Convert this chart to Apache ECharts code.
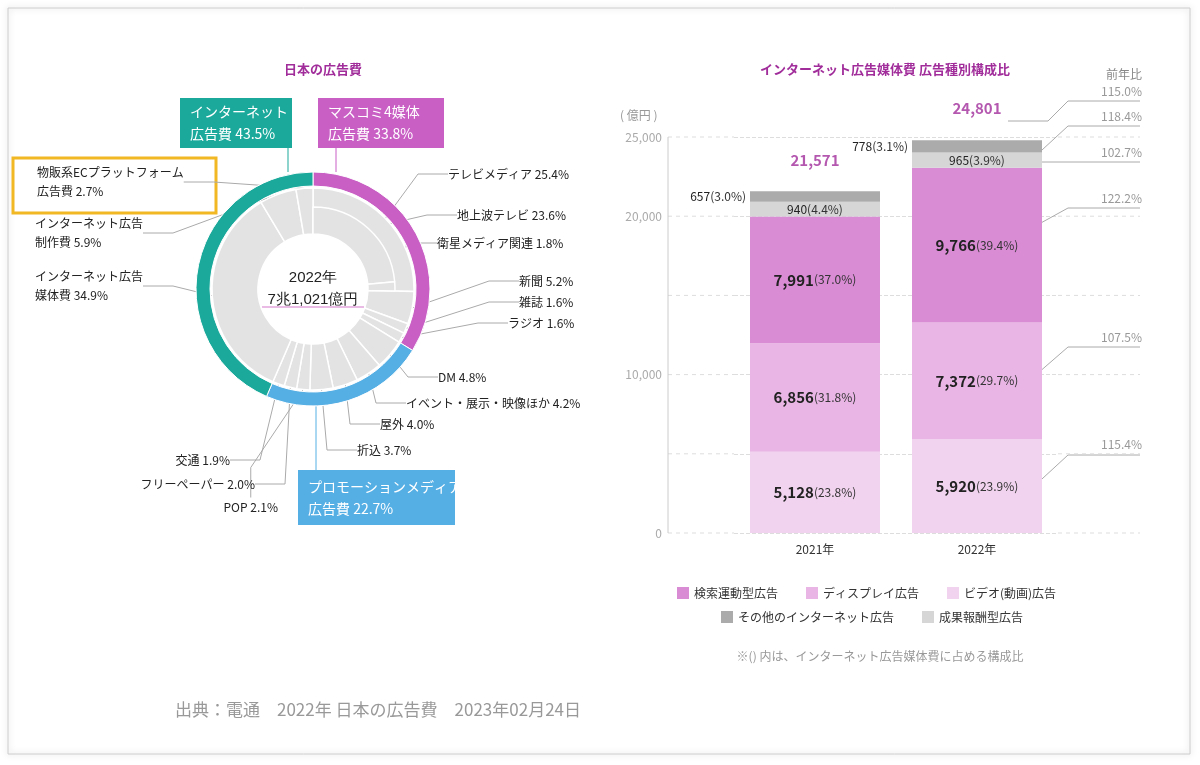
<!DOCTYPE html>
<html><head><meta charset="utf-8">
<script src="https://cdn.jsdelivr.net/npm/echarts@6/dist/echarts.min.js"></script>
<style>html,body{margin:0;background:#fff}#c{width:1200px;height:765px}</style>
</head><body><div id="c"></div>
<script>
// 左：日本の広告費（2022年, %）
var groupNames = ['マスコミ4媒体', 'プロモーションメディア', 'インターネット'];
var groupValues = [33.8, 22.7, 43.5];
var mediaNames = ['テレビメディア 25.4%', '新聞 5.2%', '雑誌 1.6%', 'ラジオ 1.6%', 'DM 4.8%',
  'イベント・展示・映像ほか 4.2%', '屋外 4.0%', '折込 3.7%', 'POP 2.1%', 'フリーペーパー 2.0%', '交通 1.9%',
  'インターネット広告\n媒体費 34.9%', 'インターネット広告\n制作費 5.9%', '物販系ECプラットフォーム\n広告費 2.7%'];
var mediaValues = [25.4, 5.2, 1.6, 1.6, 4.8, 4.2, 4.0, 3.7, 2.1, 2.0, 1.9, 34.9, 5.9, 2.7];
var tvNames = ['地上波テレビ 23.6%', '衛星メディア関連 1.8%', ''];
var tvValues = [23.6, 1.8, 74.6];

// 右：インターネット広告媒体費（億円）
var years = ['2021年', '2022年'];
var seriesNames = ['ビデオ(動画)広告', 'ディスプレイ広告', '検索運動型広告', '成果報酬型広告', 'その他のインターネット広告'];
var seriesValues = [[5128, 5920], [6856, 7372], [7991, 9766], [940, 965], [657, 778]];
var seriesShares = [['23.8', '23.9'], ['31.8', '29.7'], ['37.0', '39.4'], ['4.4', '3.9'], ['3.0', '3.1']];
var totals = [21571, 24801];
var yoyLabels = ['115.0%', '118.4%', '102.7%', '122.2%', '107.5%', '115.4%'];
var yTicks = [0, 10000, 20000, 25000];

var barColors = ['#f2d3ef', '#e8b5e4', '#d98bd4', '#d6d6d6', '#ababab'];
var font = '"Noto Sans CJK JP", sans-serif';

// ラベル位置
var mediaPos = [[448,174,'left'],[519,281,'left'],[519,302,'left'],[508,323,'left'],[438,377,'left'],
  [406,403,'left'],[380,424,'left'],[357,450,'left'],[278,507,'right'],[255,484,'right'],[230,460,'right'],
  [35,286,'left'],[35,233,'left'],[37,182,'left']];
var tvPos = [[457,215,'left'],[437,243,'left']];

function fmt(v) { return v.toLocaleString('en-US'); }

var chart = echarts.init(document.getElementById('c'));
var center = [313, 289];

var barSeries = seriesNames.map(function (name, i) {
  return {
    name: name, type: 'bar', stack: 'a', barWidth: 130, xAxisIndex: 0, yAxisIndex: 0,
    itemStyle: {color: barColors[i]},
    data: seriesValues[i].map(function (v, j) {
      var lab = {show: true, position: 'inside', fontFamily: font, color: '#222',
        formatter: function () { return '{v|' + fmt(v) + '}{p|(' + seriesShares[i][j] + '%)}'; },
        rich: {v: {fontSize: i < 3 ? 15 : 12, fontWeight: i < 3 ? 'bold' : 'normal', color: '#222'},
               p: {fontSize: 12, color: '#333'}}};
      if (i === 4) { lab.position = 'left'; lab.distance = 4; }
      return {value: v, label: lab};
    })
  };
});

chart.setOption({
  animation: false,
  title: [
    {text: '日本の広告費', left: 318, top: 58, textAlign: 'center',
      textStyle: {fontSize: 13, fontWeight: 'bold', color: '#a12d9b', fontFamily: font}},
    {text: 'インターネット広告媒体費 広告種別構成比', left: 880, top: 58, textAlign: 'center',
      textStyle: {fontSize: 13, fontWeight: 'bold', color: '#a12d9b', fontFamily: font}}
  ],
  legend: [
    {data: seriesNames.slice(0, 3).reverse(), left: 672, top: 582, itemWidth: 12, itemHeight: 12, itemGap: 28,
      icon: 'rect', textStyle: {fontSize: 12, fontFamily: font, color: '#333'}},
    {data: [seriesNames[4], seriesNames[3]], left: 716, top: 606, itemWidth: 12, itemHeight: 12, itemGap: 28,
      icon: 'rect', textStyle: {fontSize: 12, fontFamily: font, color: '#333'}}
  ],
  grid: {left: 734, right: 142, top: 137, bottom: 232},
  xAxis: {type: 'category', data: years, axisLine: {show: false}, axisTick: {show: false},
    axisLabel: {fontSize: 12, color: '#333', fontFamily: font, margin: 10}},
  yAxis: {type: 'value', min: 0, max: 25000, interval: 5000,
    axisLine: {show: false}, axisTick: {show: false},
    axisLabel: {margin: 72, fontSize: 12, color: '#aaa', fontFamily: font,
      formatter: function (v) { return yTicks.indexOf(v) >= 0 ? fmt(v) : ''; }},
    splitLine: {lineStyle: {type: 'dashed', color: '#ddd'}}},
  series: [
    {type: 'pie', radius: [103, 117], center: center, startAngle: 90, silent: true,
      label: {show: false}, itemStyle: {borderColor: '#fff', borderWidth: 1},
      data: groupNames.map(function (n, i) {
        return {name: n, value: groupValues[i], itemStyle: {color: ['#c95ec5', '#55aee4', '#1aa99b'][i]}};
      })},
    {type: 'pie', radius: [55, 101], center: center, startAngle: 90, silent: true,
      itemStyle: {color: '#e3e3e3', borderColor: '#fff', borderWidth: 1.5},
      label: {show: true, fontSize: 12, color: '#222', fontFamily: font, lineHeight: 19},
      labelLine: {show: true, lineStyle: {color: '#aaa', width: 1}},
      labelLayout: function (p) {
        var q = mediaPos[p.dataIndex];
        return {x: q[0], y: q[1], align: q[2], verticalAlign: 'middle', moveOverlap: false};
      },
      data: mediaNames.map(function (n, i) { return {name: n, value: mediaValues[i]}; })},
    {type: 'pie', radius: [55, 82], center: center, startAngle: 90, silent: true,
      itemStyle: {color: '#e3e3e3', borderColor: '#fff', borderWidth: 1.5},
      label: {show: true, fontSize: 12, color: '#222', fontFamily: font},
      labelLine: {show: true, lineStyle: {color: '#aaa', width: 1}},
      labelLayout: function (p) {
        var q = tvPos[p.dataIndex] || [0, 0, 'left'];
        return {x: q[0], y: q[1], align: q[2], verticalAlign: 'middle'};
      },
      data: tvNames.map(function (n, i) {
        return i < 2 ? {name: n, value: tvValues[i]}
          : {name: n, value: tvValues[i], itemStyle: {color: 'transparent', borderWidth: 0},
             label: {show: false}, labelLine: {show: false}};
      })}
  ].concat(barSeries).concat([
    {type: 'scatter', symbolSize: 0, data: totals, silent: true,
      label: {show: true, position: 'top', distance: 24, formatter: function (p) { return fmt(p.value); },
        fontSize: 15, fontWeight: 'bold', color: '#a12d9b', fontFamily: font}}
  ])
});

// 装飾（枠、ボックス、引き出し線）
var dash = {stroke: '#ddd', lineWidth: 1, lineDash: [4, 4]};
var g = [
  {type: 'rect', shape: {x: 8, y: 8, width: 1182, height: 746}, style: {fill: 'none', stroke: '#ccc', lineWidth: 1, shadowBlur: 6, shadowColor: 'rgba(0,0,0,0.25)'}, z: -10},
  {type: 'text', style: {text: '2022年\n7兆1,021億円', x: center[0], y: center[1], align: 'center', verticalAlign: 'middle', fontSize: 15, lineHeight: 22, fill: '#222', font: '15px ' + font}},
  {type: 'line', shape: {x1: 262, y1: 307, x2: 364, y2: 307}, style: {stroke: '#e3a6dd', lineWidth: 1.5}},
  {type: 'line', shape: {x1: 288, y1: 148, x2: 288, y2: 172}, style: {stroke: '#1aa99b', lineWidth: 1}},
  {type: 'line', shape: {x1: 336, y1: 148, x2: 336, y2: 172}, style: {stroke: '#c95ec5', lineWidth: 1}},
  {type: 'line', shape: {x1: 316, y1: 406, x2: 316, y2: 470}, style: {stroke: '#55aee4', lineWidth: 1}},
  {type: 'rect', shape: {x: 180, y: 98, width: 112, height: 50}, style: {fill: '#1aa99b'}},
  {type: 'text', style: {text: 'インターネット\n広告費 43.5%', x: 190, y: 123, verticalAlign: 'middle', lineHeight: 22, fill: '#fff', font: '14px ' + font}},
  {type: 'rect', shape: {x: 318, y: 98, width: 126, height: 50}, style: {fill: '#c95ec5'}},
  {type: 'text', style: {text: 'マスコミ4媒体\n広告費 33.8%', x: 328, y: 123, verticalAlign: 'middle', lineHeight: 22, fill: '#fff', font: '14px ' + font}},
  {type: 'rect', shape: {x: 298, y: 470, width: 157, height: 55}, style: {fill: '#55aee4'}},
  {type: 'text', style: {text: 'プロモーションメディア\n広告費 22.7%', x: 308, y: 498, verticalAlign: 'middle', lineHeight: 22, fill: '#fff', font: '14px ' + font}},
  {type: 'rect', shape: {x: 13, y: 158, width: 203, height: 55}, style: {fill: 'none', stroke: '#f2b824', lineWidth: 3}},
  {type: 'text', style: {text: '( 億円 )', x: 620, y: 115, verticalAlign: 'middle', fill: '#999', font: '12px ' + font}},
  {type: 'text', style: {text: '前年比', x: 1142, y: 74, align: 'right', verticalAlign: 'middle', fill: '#888', font: '12px ' + font}},
  {type: 'text', style: {text: '※() 内は、インターネット広告媒体費に占める構成比', x: 880, y: 656, align: 'center', verticalAlign: 'middle', fill: '#999', font: '12px ' + font}},
  {type: 'text', style: {text: '出典：電通　2022年 日本の広告費　2023年02月24日', x: 175, y: 710, verticalAlign: 'middle', fill: '#999', font: '17px ' + font}}
];
// 前年比ラベルと引き出し線
var yoyPos = [[91, [[1140,101],[1068,101],[1048,121],[1008,121]]],
  [116, [[1140,126],[1068,126],[1042,150]]],
  [152, [[1140,162],[1042,162]]],
  [198, [[1140,208],[1068,208],[1010,240]]],
  [337, [[1140,347],[1068,347],[1030,380]]],
  [444, [[1140,455],[1068,455],[1030,490]]]];
yoyLabels.forEach(function (t, i) {
  g.push({type: 'text', style: {text: t, x: 1142, y: yoyPos[i][0], align: 'right', verticalAlign: 'middle', fill: '#999', font: '12px ' + font}});
  g.push({type: 'polyline', shape: {points: yoyPos[i][1]}, style: {stroke: '#aaa', lineWidth: 1, fill: 'none'}});
});
// グリッド線を左右に延長、縦軸線
[0, 5000, 10000, 15000, 20000, 25000].forEach(function (v) {
  var y = chart.convertToPixel({yAxisIndex: 0}, v);
  g.push({type: 'line', shape: {x1: 668, y1: y, x2: 734, y2: y}, style: dash});
  g.push({type: 'line', shape: {x1: 1058, y1: y, x2: 1140, y2: y}, style: dash});
});
g.push({type: 'line', shape: {x1: 668, y1: 137, x2: 668, y2: 533}, style: {stroke: '#ccc', lineWidth: 1}});
chart.setOption({graphic: g});
</script></body></html>
